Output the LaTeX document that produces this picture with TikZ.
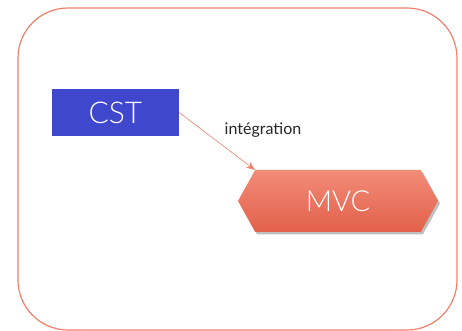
\documentclass[tikz,border=0pt]{standalone}
\usepackage{fontspec}
\setmainfont{Lato}[UprightFont={* Light}]
\newfontfamily\notefont{Lato}
\usetikzlibrary{arrows.meta,shapes.symbols,shadows}

\definecolor{salmon}{HTML}{F0806A}
\definecolor{salmondark}{HTML}{E2604A}
\definecolor{salmonlight}{HTML}{F28C78}
\definecolor{cstblue}{HTML}{3F47CC}

\tikzset{
  module/.style={fill=cstblue, text=white, minimum width=127pt, minimum height=47pt, inner sep=0pt, font=\fontsize{30}{30}\selectfont},
  core/.style={signal, signal to=west and east, signal pointer angle=122, minimum width=200pt, minimum height=62pt, inner sep=0pt,
    top color=salmonlight, bottom color=salmondark, text=white, font=\fontsize{29}{29}\selectfont,
    drop shadow={shadow xshift=2pt, shadow yshift=-2.5pt, fill=black, opacity=0.25}},
  link/.style={draw=salmon, line width=0.6pt, -{Stealth[length=9pt,width=7pt]}}
}

\begin{document}
\begin{tikzpicture}[x=1pt,y=1pt]

\def\width{462}
\def\height{331}

\path [use as bounding box] (0,0) rectangle (\width,\height);

% FRAME
\draw [salmon, line width=1.2pt, rounded corners=50pt] (18,1) rectangle (457,323);

% BOXES
\node [module] (cst) at (115.5,218.5) {CST};
\node [core] (mvc) at (338,130) {MVC};

% LINK
\coordinate (mvctip) at (255,161);
\draw [link] (cst.east) -- (mvctip);
\node [text=black!85, font=\notefont\fontsize{16}{16}\selectfont] (integ) at (263,201) {intégration};

\end{tikzpicture}
\end{document}
